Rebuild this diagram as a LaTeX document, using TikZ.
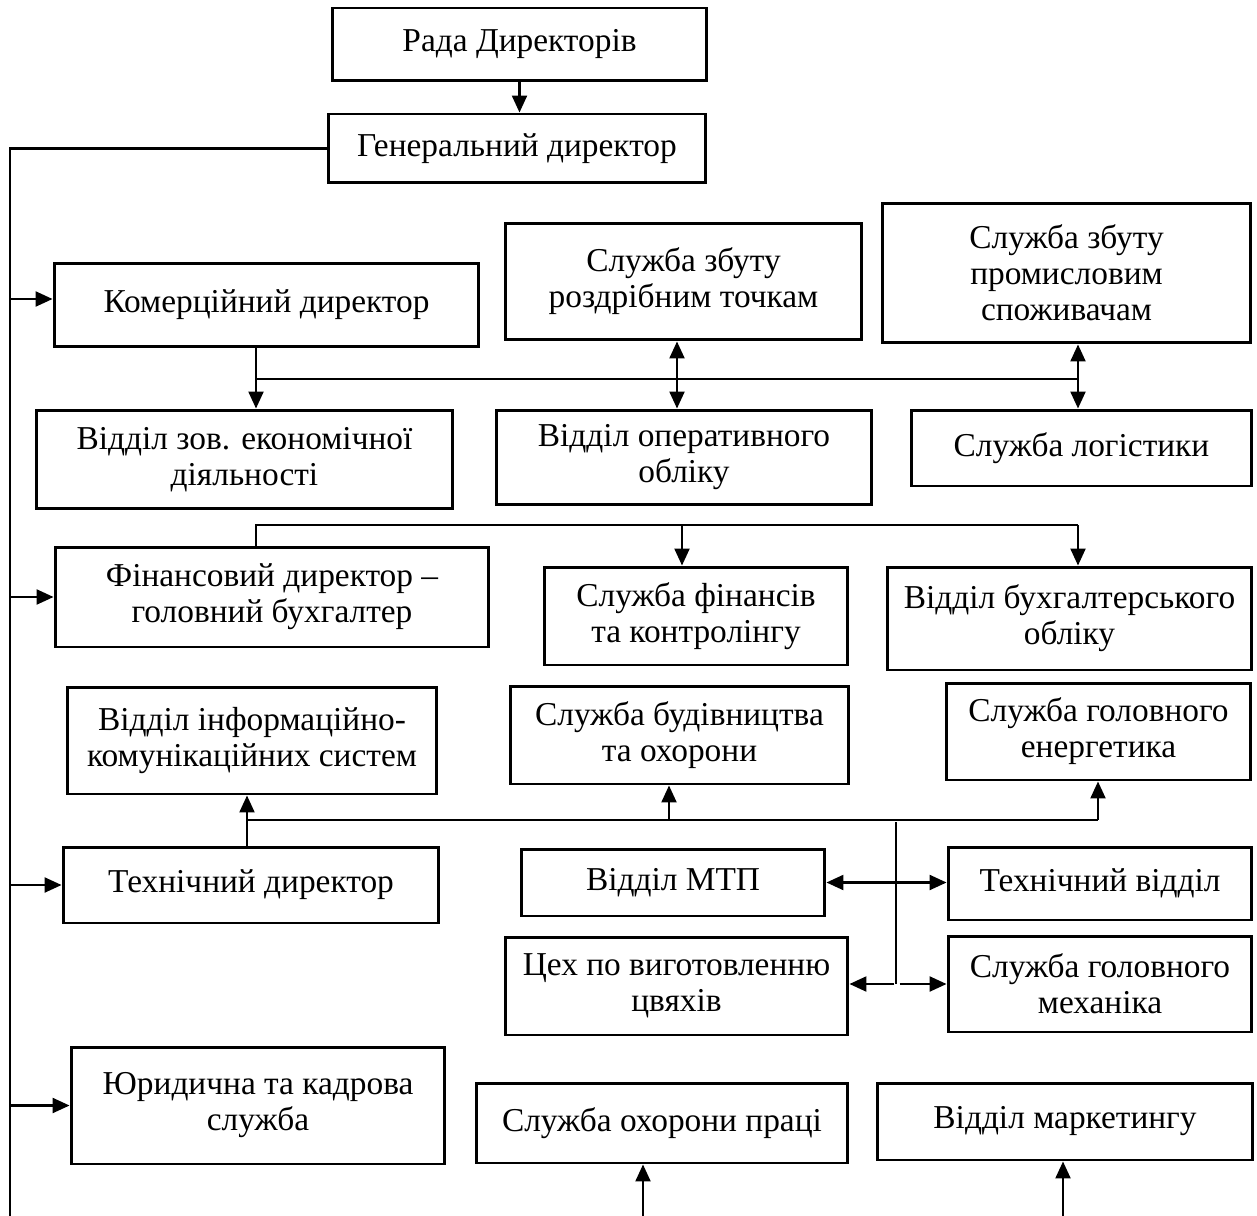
\documentclass[tikz,border=0pt]{standalone}
\usepackage{fontspec}
\setmainfont{Liberation Serif}
\usetikzlibrary{arrows.meta}
\tikzset{every picture/.style={line width=1.3pt}}
\tikzset{
	khung/.style={draw,line width=1.7pt,align=center,inner sep=0pt,font=\fontsize{19}{20.5}\selectfont},
	truc/.style={line width=0.85pt}
}
\begin{document}
\begin{tikzpicture}[>={Triangle[length=3.4mm,width=3mm]},x=0.02cm,y=-0.02cm]
	\useasboundingbox (0,0) rectangle (1257,1216);
	%Khoi tren
	\node[khung,minimum width=7.5cm,minimum height=1.46cm] (rada) at (519.5,44.5) {Рада Директорів};
	\node[khung,minimum width=7.56cm,minimum height=1.38cm] (gen) at (517,148.5) {Генеральний директор};
	%Khoi thuong mai
	\node[khung,minimum width=8.5cm,minimum height=1.68cm] (kom) at (266.5,305) {Комерційний директор};
	\node[khung,minimum width=7.14cm,minimum height=2.34cm] (zbr) at (683.5,281.5) {Служба збуту\\роздрібним точкам};
	\node[khung,minimum width=7.38cm,minimum height=2.8cm] (zbp) at (1066.5,273) {Служба збуту\\промисловим\\споживачам};
	\node[khung,minimum width=8.34cm,minimum height=1.98cm] (zed) at (244.5,459.5) {Відділ зов. економічної\\діяльності};
	\node[khung,minimum width=7.52cm,minimum height=1.9cm] (opo) at (684,457.5) {Відділ оперативного\\обліку};
	\node[khung,minimum width=6.82cm,minimum height=1.52cm] (log) at (1081.5,448) {Служба логістики};
	%Khoi tai chinh
	\node[khung,minimum width=8.68cm,minimum height=2cm] (fin) at (272,597) {Фінансовий директор –\\головний бухгалтер};
	\node[khung,minimum width=6.08cm,minimum height=1.96cm] (sfk) at (696,616) {Служба фінансів\\та контролінгу};
	\node[khung,minimum width=7.3cm,minimum height=2.06cm] (vbo) at (1069.5,618.5) {Відділ бухгалтерського\\обліку};
	%Khoi ky thuat
	\node[khung,minimum width=7.4cm,minimum height=2.14cm] (iks) at (252,740.5) {Відділ інформаційно-\\комунікаційних систем};
	\node[khung,minimum width=6.78cm,minimum height=1.96cm] (sbo) at (679.5,735) {Служба будівництва\\та охорони};
	\node[khung,minimum width=6.1cm,minimum height=1.94cm] (sge) at (1098.5,731.5) {Служба головного\\енергетика};
	\node[khung,minimum width=7.52cm,minimum height=1.52cm] (tex) at (251,885) {Технічний директор};
	\node[khung,minimum width=6.08cm,minimum height=1.34cm] (mtp) at (673,882.5) {Відділ МТП};
	\node[khung,minimum width=6.08cm,minimum height=1.46cm] (tv) at (1100,883.5) {Технічний відділ};
	\node[khung,minimum width=6.86cm,minimum height=1.96cm] (cex) at (676.5,986) {Цех по виготовленню\\цвяхів};
	\node[khung,minimum width=6.08cm,minimum height=1.92cm] (sgm) at (1100,984) {Служба головного\\механіка};
	%Khoi duoi
	\node[khung,minimum width=7.48cm,minimum height=2.34cm] (yur) at (258,1105.5) {Юридична та кадрова\\служба};
	\node[khung,minimum width=7.44cm,minimum height=1.6cm] (sop) at (662,1123) {Служба охорони праці};
	\node[khung,minimum width=7.52cm,minimum height=1.54cm] (mar) at (1065,1121.5) {Відділ маркетингу};
	%Diem noi
	\coordinate (trai) at (10,1216);
	\coordinate (b1a) at (256,379);
	\coordinate (b1b) at (1078,379);
	\coordinate (b1c) at (677,379);
	\coordinate (b2a) at (256,525);
	\coordinate (b2b) at (1078,525);
	\coordinate (b2c) at (682,525);
	\coordinate (b3a) at (247,820);
	\coordinate (b3b) at (1098,820);
	\coordinate (b3c) at (669,820);
	\coordinate (b3d) at (896,822);
	\coordinate (b3e) at (896,984);
	\coordinate (d1) at (643,1216);
	\coordinate (d2) at (1063,1216);
	%Mui ten tren
	\draw[->] (rada.south) -- (rada.south |- gen.north);
	\draw (gen.west) -- (gen.west -| trai) -- (trai);
	\draw[->] ([yshift=0.12cm]trai |- kom.west) -- ([yshift=0.12cm]kom.west);
	\draw[->] (trai |- fin.west) -- (fin.west);
	\draw[->] (trai |- tex.west) -- (tex.west);
	\draw[->] (trai |- yur.west) -- (yur.west);
	%Mui ten thuong mai
	\draw[->] (b1a |- kom.south) -- (b1a |- zed.north);
	\draw[truc] (b1a) -- (b1b);
	\draw[<->] (b1c |- zbr.south) -- (b1c |- opo.north);
	\draw[<->] (b1b |- zbp.south) -- (b1b |- log.north);
	%Mui ten tai chinh
	\draw[truc] (b2a |- fin.north) -- (b2a) -- (b2b);
	\draw[->] (b2c) -- (b2c |- sfk.north);
	\draw[->] (b2b) -- (b2b |- vbo.north);
	%Mui ten ky thuat
	\draw[->] (b3a |- tex.north) -- (b3a |- iks.south);
	\draw[truc] (b3a) -- (b3b);
	\draw[->] (b3c) -- (b3c |- sbo.south);
	\draw[->] (b3b) -- (b3b |- sge.south);
	\draw[truc] (b3d) -- (b3e);
	\draw[<->] (mtp.east) -- (mtp.east -| tv.west);
	\draw[->] ([xshift=-1pt]b3e) -- (b3e -| cex.east);
	\draw[->] ([xshift=2pt]b3e) -- (b3e -| sgm.west);
	%Mui ten duoi
	\draw[->] (d1) -- (d1 |- sop.south);
	\draw[->] (d2) -- (d2 |- mar.south);
\end{tikzpicture}
\end{document}
